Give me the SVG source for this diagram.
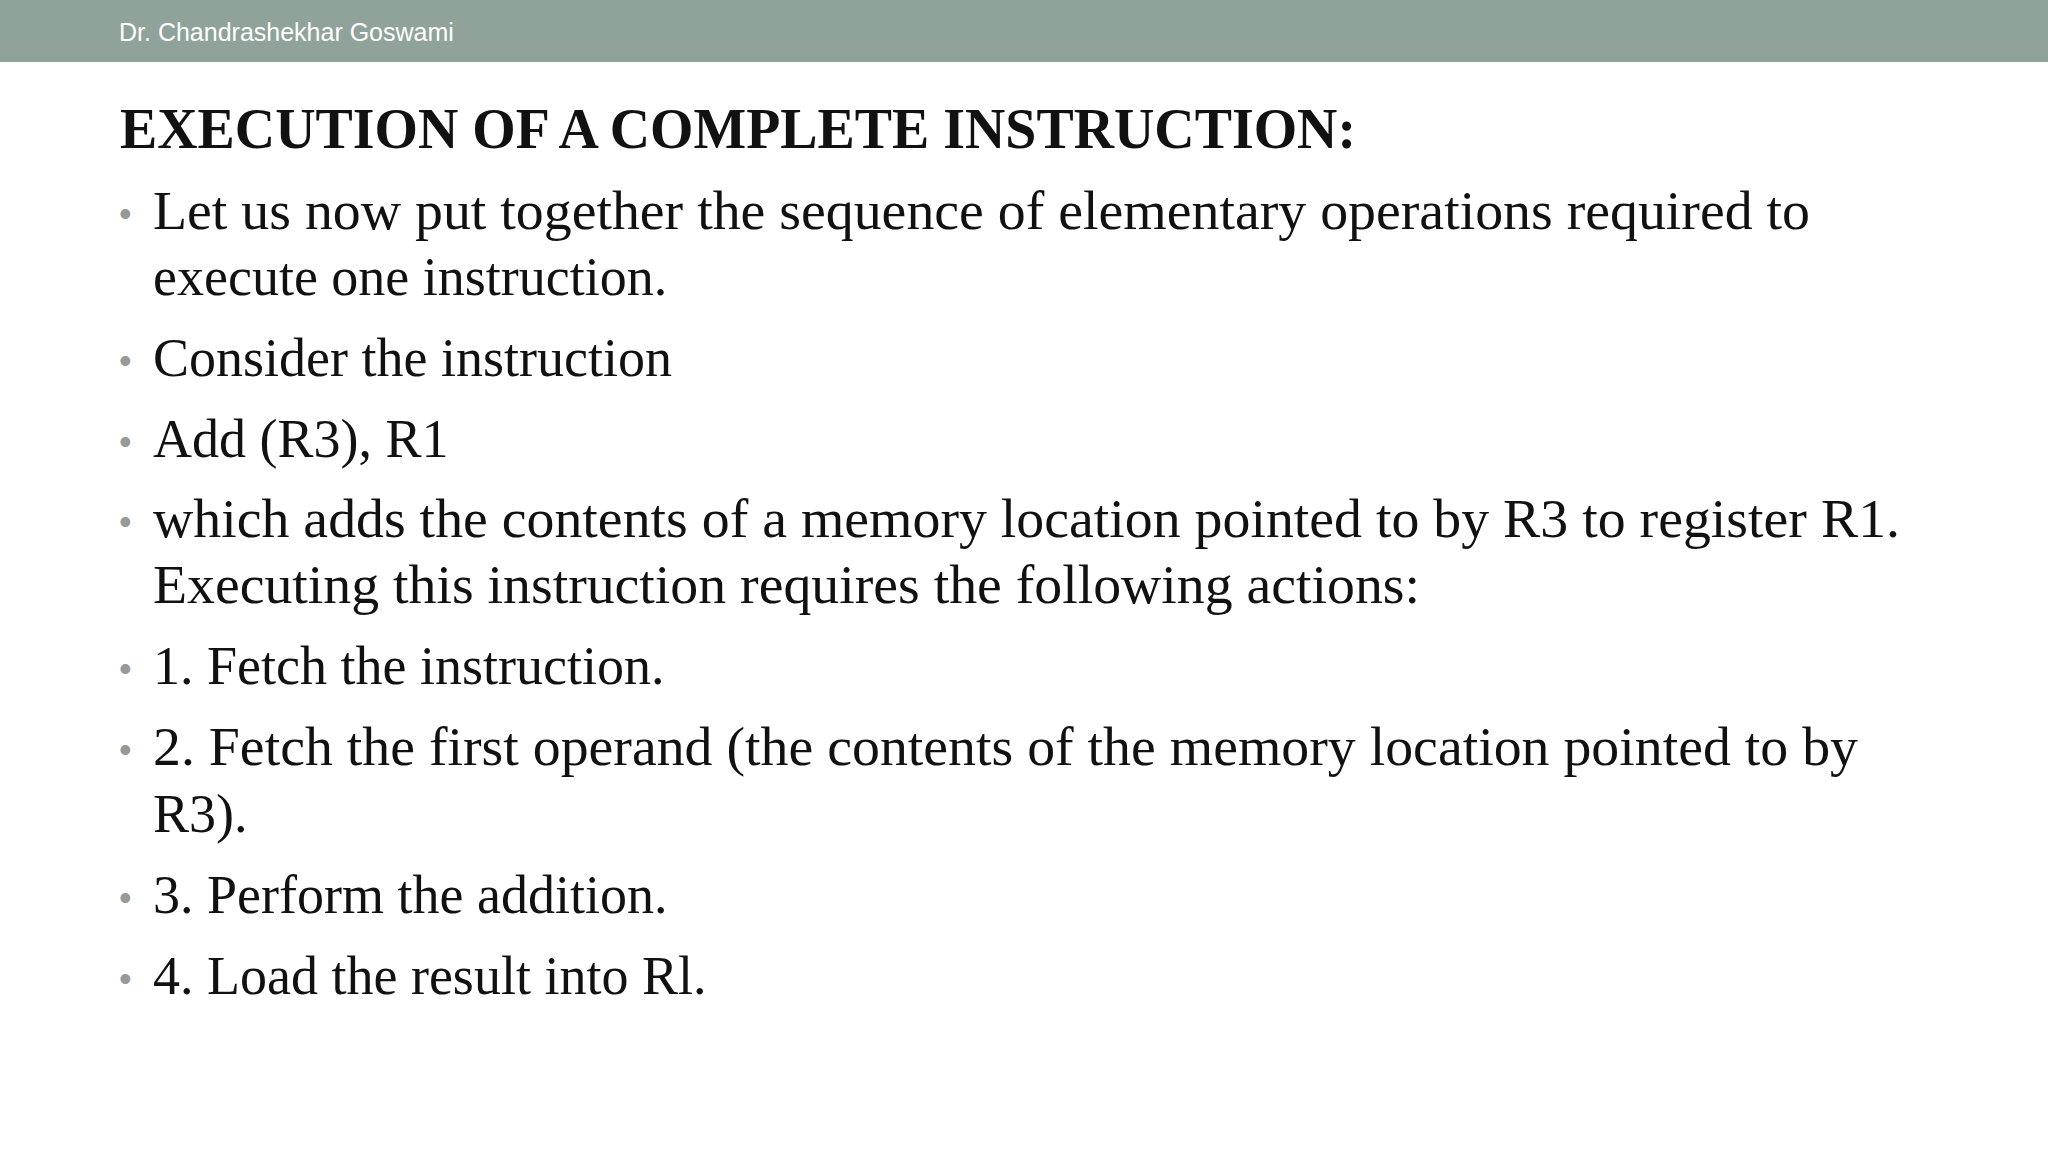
<svg xmlns="http://www.w3.org/2000/svg" width="2048" height="1175" viewBox="0 0 2048 1175">
<style>
.b{font-family:"Liberation Serif",serif;font-size:54px;fill:#111}
.d{font-family:"Liberation Sans",sans-serif;font-size:36px;fill:#999}
</style>
<rect width="2048" height="1175" fill="#fff"/>
<g id="header">
<rect width="2048" height="62" fill="#8fa39a"/>
<text x="119" y="41" font-family="Liberation Sans,sans-serif" font-size="25" fill="#fff">Dr. Chandrashekhar Goswami</text>
</g>
<g id="title"><text x="120" y="148" font-family="Liberation Serif,serif" font-weight="bold" font-size="57" fill="#111" textLength="1236" lengthAdjust="spacingAndGlyphs">EXECUTION OF A COMPLETE INSTRUCTION:</text></g>
<g id="body">
<text class="d" x="119" y="226">•</text>
<text class="b" x="153" y="229" textLength="1657" lengthAdjust="spacingAndGlyphs">Let us now put together the sequence of elementary operations required to</text>
<text class="b" x="153" y="295">execute one instruction.</text>
<text class="d" x="119" y="373">•</text>
<text class="b" x="153" y="376">Consider the instruction</text>
<text class="d" x="119" y="454">•</text>
<text class="b" x="153" y="457">Add (R3), R1</text>
<text class="d" x="119" y="534">•</text>
<text class="b" x="153" y="537" textLength="1747" lengthAdjust="spacingAndGlyphs">which adds the contents of a memory location pointed to by R3 to register R1.</text>
<text class="b" x="153" y="603" textLength="1267" lengthAdjust="spacingAndGlyphs">Executing this instruction requires the following actions:</text>
<text class="d" x="119" y="681">•</text>
<text class="b" x="153" y="684">1. Fetch the instruction.</text>
<text class="d" x="119" y="762">•</text>
<text class="b" x="153" y="765" textLength="1705" lengthAdjust="spacingAndGlyphs">2. Fetch the first operand (the contents of the memory location pointed to by</text>
<text class="b" x="153" y="832">R3).</text>
<text class="d" x="119" y="910">•</text>
<text class="b" x="153" y="913">3. Perform the addition.</text>
<text class="d" x="119" y="991">•</text>
<text class="b" x="153" y="994">4. Load the result into Rl.</text>
</g>
</svg>
